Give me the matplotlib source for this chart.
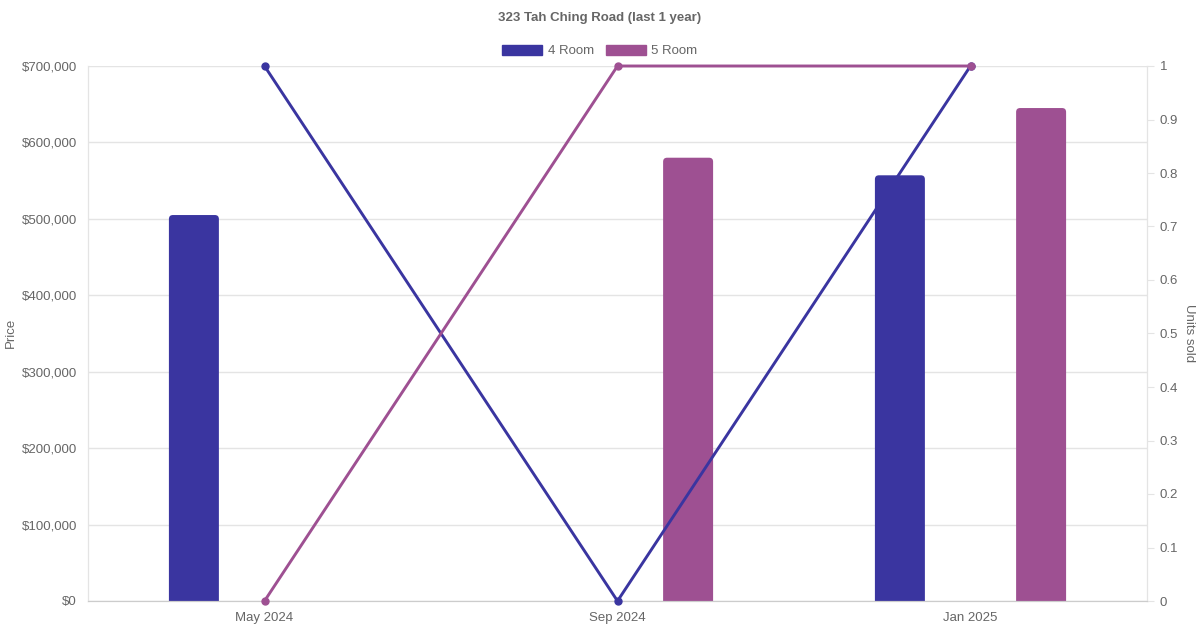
import matplotlib.pyplot as plt
import matplotlib.ticker as mticker
from matplotlib.patches import Patch, FancyBboxPatch
import numpy as np

plt.rcParams['font.family'] = ['Liberation Sans', 'DejaVu Sans']

months = ['May 2024', 'Sep 2024', 'Jan 2025']
price_4room = [505000, np.nan, 557000]
price_5room = [np.nan, 580000, 645000]
units_4room = [1, 0, 1]
units_5room = [0, 1, 1]

c4 = '#3a35a0'
c5 = '#9e5092'
grid_c = '#e4e4e4'
text_c = '#666666'

fig = plt.figure(figsize=(12, 6.3), dpi=100)
ax = fig.add_axes([88 / 1200, 29 / 630, 1059 / 1200, 535 / 630])
ax2 = ax.twinx()

ax.set_xlim(-0.5, 2.5)
ax.set_ylim(0, 700000)
ax2.set_ylim(0, 1)

x = np.arange(len(months))
bw = 0.1416
# rounded top corners: swap the plain bars for rounded boxes that dip below 0
rx = 0.0113
ry = 5200
for vals, off, col in ((price_4room, -0.2, c4), (price_5room, 0.2, c5)):
    bars = ax.bar(x + off, vals, width=bw, color=col, zorder=2)
    for r in bars.patches:
        h = r.get_height()
        if not np.isfinite(h) or h <= 0:
            r.remove()
            continue
        fb = FancyBboxPatch((r.get_x(), -2 * ry), r.get_width(), h + 2 * ry,
                            boxstyle=f'round,pad=0,rounding_size={rx}',
                            mutation_aspect=ry / rx, fc=col, ec='none', zorder=2)
        r.remove()
        ax.add_patch(fb)

ax2.plot(x, units_4room, color=c4, lw=2.1, marker='o', ms=5, zorder=3, clip_on=False)
ax2.plot(x, units_5room, color=c5, lw=2.1, marker='o', ms=5, zorder=3, clip_on=False)

ax.set_xticks(x)
ax.set_xticklabels(months)
ax.yaxis.set_major_locator(mticker.MultipleLocator(100000))
ax.yaxis.set_major_formatter(mticker.FuncFormatter(lambda v, p: '${:,.0f}'.format(v)))
ax2.yaxis.set_major_locator(mticker.MultipleLocator(0.1))
ax2.yaxis.set_major_formatter(mticker.FuncFormatter(lambda v, p: '{:g}'.format(round(v, 1))))

ax.grid(axis='y', color=grid_c, lw=1, zorder=0)
ax.set_axisbelow(True)
ax.tick_params(axis='x', length=0, colors=text_c, labelsize=9.5, pad=8)
ax.tick_params(axis='y', length=0, colors=text_c, labelsize=9.5, pad=8)
ax2.tick_params(axis='y', length=5, color=grid_c, colors=text_c, labelsize=9.5, pad=4)
ax2.tick_params(axis='y', color=grid_c)

for a in (ax, ax2):
    a.spines['top'].set_visible(False)
    a.spines['left'].set_color(grid_c)
    a.spines['right'].set_color(grid_c)
    a.spines['bottom'].set_color('#cccccc')

fig.text(11 / 1200, 1 - 333 / 630, 'Price', rotation=90, ha='center', va='center',
         color=text_c, fontsize=9.5)
fig.text(1189 / 1200, 1 - 333 / 630, 'Units sold', rotation=-90, ha='center', va='center',
         color=text_c, fontsize=9.5)

fig.suptitle('323 Tah Ching Road (last 1 year)', y=1 - 18 / 630, va='center',
             fontsize=9.5, fontweight='bold', color=text_c)

handles = [Patch(color=c4, label='4 Room'), Patch(color=c5, label='5 Room')]
fig.legend(handles=handles, loc='center', bbox_to_anchor=(0.5, 1 - 51 / 630), ncol=2,
           frameon=False, fontsize=9.5, labelcolor=text_c, handlelength=3.0,
           handleheight=0.8, handletextpad=0.45, columnspacing=0.9)

fig.savefig('out.png', dpi=100)
